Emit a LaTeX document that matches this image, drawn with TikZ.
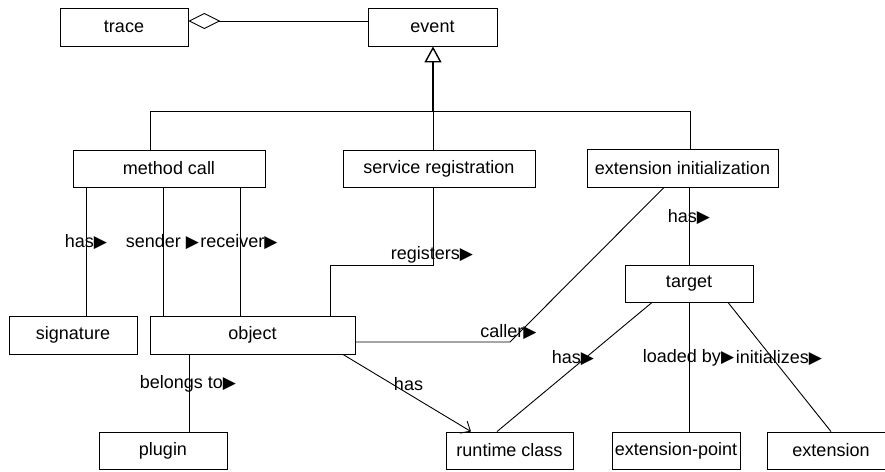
\documentclass[tikz,border=0pt]{standalone}
\usepackage{fontspec}
\setmainfont{Liberation Sans}
\newfontfamily\symfont{DejaVu Sans}
\usetikzlibrary{arrows.meta,calc}
\newcommand{\tri}{{\symfont\fontsize{17}{17}\selectfont\raisebox{0.5pt}{▶}}}
\begin{document}
\begin{tikzpicture}[x=1pt,y=-1pt,line width=0.9pt,
  box/.style={draw,rectangle,inner sep=0pt,font=\fontsize{18}{20}\selectfont},
  lbl/.style={inner sep=0pt,font=\fontsize{18}{20}\selectfont},
  agg/.style={{Diamond[open,length=32pt,width=16pt]}-},
  gen/.style={-{Triangle[open,length=16pt,width=17pt]}},
  nav/.style={-{Straight Barb[length=8pt,width=14pt]}}]
\useasboundingbox (0,0) rectangle (885,471);
% boxes
\node[box,minimum width=128pt,minimum height=38pt] (trace) at (124,27) {trace};
\node[box,minimum width=129pt,minimum height=38pt] (event) at (432.5,27) {event};
\node[box,minimum width=192pt,minimum height=37pt] (mc) at (169,168.5) {method call};
\node[box,minimum width=192pt,minimum height=37pt] (sr) at (439,168.5) {service registration};
\node[box,minimum width=191pt,minimum height=38pt] (ei) at (682.5,168) {extension initialization};
\node[box,minimum width=128pt,minimum height=38pt] (sig) at (73,335) {signature};
\node[box,minimum width=205pt,minimum height=38pt] (obj) at (252.5,335) {object};
\node[box,minimum width=128pt,minimum height=37pt] (plug) at (163,450.5) {plugin};
\node[box,minimum width=127pt,minimum height=37pt] (rc) at (509.5,450.5) {runtime class};
\node[box,minimum width=128pt,minimum height=37pt] (tgt) at (689,283.5) {target};
\node[box,minimum width=128pt,minimum height=37pt] (ep) at (676,450.5) {extension-point};
\node[box,minimum width=128pt,minimum height=37pt] (ext) at (831,450.5) {extension};
% helper coordinates
\coordinate (aggY) at (0,21);
\coordinate (j) at (433,111);
\coordinate (gL) at (150,111);
\coordinate (gR) at (690,111);
\coordinate (x86) at (86,0);
\coordinate (x163) at (163,0);
\coordinate (x240) at (240,0);
\coordinate (r1) at (433,265);
\coordinate (r2) at (330,265);
\coordinate (c0) at (664,0);
\coordinate (c1) at (510,342);
\coordinate (x689) at (689,0);
\coordinate (x189) at (189,0);
\coordinate (h0) at (343,0);
\coordinate (h1) at (471,0);
\coordinate (t1) at (652,0);
\coordinate (t2) at (497,0);
\coordinate (t3) at (728,0);
\coordinate (t4) at (831,0);
% aggregation
\draw[agg] (trace.east |- aggY) -- (event.west |- aggY);
% generalization
\draw[gen,line width=1.4pt] (j) -- (event.south -| j);
\draw (mc.north -| gL) -- (gL) -- (gR) -- (ei.north -| gR);
\draw (j) -- (sr.north -| j);
% method call associations
\draw (mc.south -| x86) -- (sig.north -| x86);
\draw (mc.south -| x163) -- (obj.north -| x163);
\draw (mc.south -| x240) -- (obj.north -| x240);
\node[lbl] (l1) at (86,242) {has\tri};
\node[lbl] (l2) at (162.5,242) {sender \tri};
\node[lbl] (l3) at (239,242) {receiver\tri};
% registers
\draw (sr.south -| r1) -- (r1) -- (r2) -- (obj.north -| r2);
\node[lbl] (l4) at (432,255) {registers\tri};
% caller
\draw (ei.south -| c0) -- (c1) -- (obj.east |- c1);
\node[lbl] (l5) at (508.5,332) {caller\tri};
% ext init has target
\draw (ei.south -| x689) -- (tgt.north -| x689);
\node[lbl] (l6) at (689,217) {has\tri};
% belongs to
\draw (obj.south -| x189) -- (plug.north -| x189);
\node[lbl] (l7) at (188,384) {belongs to\tri};
% has runtime class
\draw[nav] (obj.south -| h0) -- (rc.north -| h1);
\node[lbl] (l8) at (408.5,384) {has};
% target associations
\draw (tgt.south -| t1) -- (rc.north -| t2);
\node[lbl] (l9) at (573,358) {has\tri};
\draw (tgt.south -| x689) -- (ep.north -| x689);
\node[lbl] (l10) at (688.5,358) {loaded by\tri};
\draw (tgt.south -| t3) -- (ext.north -| t4);
\node[lbl] (l11) at (779,358) {initializes\tri};
\end{tikzpicture}
\end{document}
